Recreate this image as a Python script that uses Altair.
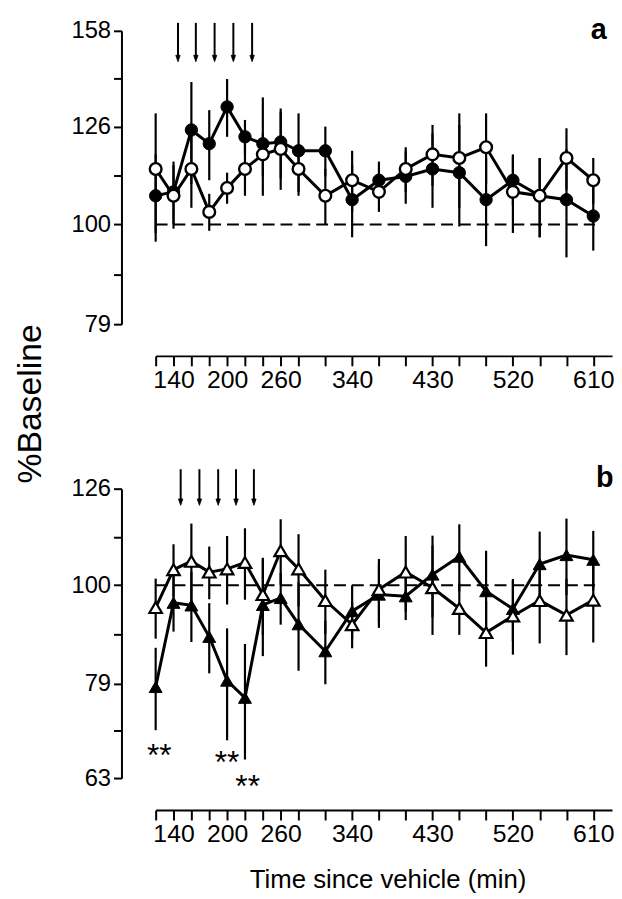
import altair as alt
import pandas as pd

# ---------------- data ----------------
times = [120, 140, 160, 180, 200, 220, 240, 260, 280, 310,
         340, 370, 400, 430, 460, 490, 520, 550, 580, 610]
x_labelled = [140, 200, 260, 340, 430, 520, 610]
x_domain = [120, 631]
baseline_span = [120, 612]

# panel a : circles
a_filled = [107, 108, 125, 121, 132, 123, 121, 121.5, 119, 119,
            106, 111, 112, 114, 113, 106, 111, 107, 106, 102]
a_filled_err = [11, 8, 15, 10, 9, 5, 14, 10, 11, 7,
                9, 5, 7, 10, 13.5, 11, 6.5, 10, 13.5, 8]
a_open = [114, 107, 114, 103, 109, 114, 118, 119.5, 114, 107,
          111, 108, 114, 118, 117, 120, 108, 107, 117, 111]
a_open_err = [16, 8, 10, 4.5, 4, 7, 6, 11, 7, 7,
              8, 5, 6, 8.5, 13, 10, 10, 10, 8.5, 6]
a_y_domain = [79, 158]
a_y_labels = [79, 100, 126, 158]
a_y_minor = [88.9, 112.2, 141.1]
a_arrows = [145, 165, 186, 207, 228]
a_arrow_top = [161, 161, 161, 161, 161]
a_arrow_head = [148, 148, 148, 148, 148]
a_letter = ["a"]
a_letter_x = [616]
a_letter_y = [155]

# panel b : triangles
b_filled = [78.4, 95.9, 95.3, 88.4, 79.6, 76.4, 95.4, 97, 91.1, 85.4,
            94, 97.8, 97.4, 102.6, 107.1, 98.6, 94.5, 105.2, 107.5, 106.3]
b_filled_err = [7.7, 6.4, 8, 7.4, 10.6, 10.5, 11, 6, 9.6, 6.5,
                6, 7.5, 5.4, 10, 8.6, 10, 7, 8.5, 9.8, 7.6]
b_open = [94.8, 103.8, 105.9, 103.2, 104, 105.6, 97.8, 108.6, 104, 96.4,
          91, 99, 103.2, 99.4, 94.6, 89.3, 92.9, 96.4, 93.1, 96.5]
b_open_err = [6.8, 6.5, 10, 6.5, 8.5, 9, 9, 8.5, 9, 7.4,
              5, 7.5, 9.3, 10.6, 5.8, 7, 8.2, 9.4, 8.5, 9.3]
b_y_domain = [63, 126]
b_y_labels = [63, 79, 100, 126]
b_y_minor = [70.6, 88.9, 112.2]
b_arrows = [148, 169, 190, 210, 230]
b_arrow_top = [132, 132, 132, 132, 132]
b_arrow_head = [122, 122, 122, 122, 122]
b_stars_x = [124, 200, 223]
b_stars_y = [67.8, 66.8, 63.0]
b_stars_text = ["**", "**", "**"]
b_letter = ["b"]
b_letter_x = [622.8]
b_letter_y = [126.5]

FONT = "Liberation Sans"
ARROW_SHAPE = "M-0.34,-0.5L0.34,-0.5L0,0.5Z"


def series_df(vals, errs, name):
    df = pd.DataFrame({"time": times, "value": vals, "err": errs})
    df["lo"] = df["value"] - df["err"]
    df["hi"] = df["value"] + df["err"]
    df["series"] = name
    return df


def label_expr(vals):
    arr = ",".join(str(v) for v in vals)
    return f"indexof([{arr}], datum.value) >= 0 ? '' + datum.value : ''"


def panel(filled, filled_err, opened, opened_err, y_domain, y_labels, y_minor,
          arrows, arrow_top, arrow_head, letter, letter_x, letter_y,
          shape, height, x_title, y_title, stars=None):
    df_f = series_df(filled, filled_err, "filled")
    df_o = series_df(opened, opened_err, "open")
    df_all = pd.concat([df_f, df_o], ignore_index=True)

    xs = alt.Scale(domain=x_domain, nice=False, zero=False)
    ys = alt.Scale(type="log", domain=y_domain, nice=False)

    x_kw = dict(
        values=times, labelExpr=label_expr(x_labelled),
        tickSize=10, tickWidth=2, tickColor="black", domainWidth=2,
        domainColor="black", offset=32, grid=False, labelFontSize=25,
        labelPadding=2, labelColor="black", labelFont=FONT,
        labelFlush=False, labelOverlap=False,
    )
    if x_title:
        x_axis = alt.Axis(title=x_title, titleFontSize=26,
                          titleFontWeight="normal", titleColor="black",
                          titleFont=FONT, titlePadding=20, titleX=234, **x_kw)
    else:
        x_axis = alt.Axis(title=None, **x_kw)
    y_axis_kw = dict(
        values=sorted(y_labels + y_minor), labelExpr=label_expr(y_labels),
        tickSize=8, tickWidth=2, tickColor="black", domainWidth=2,
        domainColor="black", offset=34.5, grid=False, labelFontSize=24,
        labelPadding=3, labelColor="black", labelFont=FONT,
        labelFlush=False, labelOverlap=False,
    )
    if y_title:
        y_axis = alt.Axis(
            title=y_title, titleFontSize=34, titleFontWeight="normal",
            titleColor="black", titleFont=FONT, titleAngle=-90,
            titleAlign="center", titleBaseline="middle",
            titleX=-92, titleY=376, **y_axis_kw)
    else:
        y_axis = alt.Axis(title=None, **y_axis_kw)

    X = lambda f: alt.X(f, type="quantitative", scale=xs, axis=x_axis)
    Y = lambda f: alt.Y(f, type="quantitative", scale=ys, axis=y_axis)

    base_line = pd.DataFrame({"x1": [baseline_span[0]], "x2": [baseline_span[1]],
                              "y": [100]})
    dashed = alt.Chart(base_line).mark_rule(
        color="black", strokeWidth=2, strokeDash=[12, 6]
    ).encode(x=X("x1"), x2="x2", y=Y("y"))

    bars = alt.Chart(df_all).mark_rule(color="black", strokeWidth=2.2).encode(
        x=X("time"), y=Y("lo"), y2="hi")

    lines = alt.Chart(df_all).mark_line(color="black", strokeWidth=3).encode(
        x=X("time"), y=Y("value"), detail="series:N")

    if shape == "circle":
        pts_f = alt.Chart(df_f).mark_point(
            shape="circle", filled=True, fill="black", stroke="black",
            strokeWidth=1, size=155, opacity=1).encode(x=X("time"), y=Y("value"))
        pts_o = alt.Chart(df_o).mark_point(
            shape="circle", filled=True, fill="white", stroke="black",
            strokeWidth=2.4, size=140, opacity=1).encode(x=X("time"), y=Y("value"))
    else:
        pts_f = alt.Chart(df_f).mark_point(
            shape="triangle-up", filled=True, fill="black", stroke="black",
            strokeWidth=1, size=170, opacity=1).encode(x=X("time"), y=Y("value"))
        pts_o = alt.Chart(df_o).mark_point(
            shape="triangle-up", filled=True, fill="white", stroke="black",
            strokeWidth=2.2, size=160, opacity=1).encode(x=X("time"), y=Y("value"))

    arr_df = pd.DataFrame({"time": arrows, "top": arrow_top, "head": arrow_head})
    arr_line = alt.Chart(arr_df).mark_rule(color="black", strokeWidth=2).encode(
        x=X("time"), y=Y("top"), y2="head")
    arr_head = alt.Chart(arr_df).mark_point(
        shape=ARROW_SHAPE, filled=True, fill="black", stroke="black",
        strokeWidth=0.8, size=169, opacity=1).encode(x=X("time"), y=Y("head"))

    let_df = pd.DataFrame({"time": letter_x, "y": letter_y, "t": letter})
    let_txt = alt.Chart(let_df).mark_text(
        font=FONT, fontSize=29, fontWeight="bold", color="black",
        align="center", baseline="alphabetic").encode(
        x=X("time"), y=Y("y"), text="t:N")

    layers = [dashed, bars, lines, pts_f, pts_o, arr_line, arr_head, let_txt]
    if stars is not None:
        st_df = pd.DataFrame({"time": stars[0], "y": stars[1], "t": stars[2]})
        st_txt = alt.Chart(st_df).mark_text(
            font=FONT, fontSize=32, color="black", align="center",
            baseline="middle", dy=9).encode(x=X("time"), y=Y("y"), text="t:N")
        layers.append(st_txt)

    return alt.layer(*layers).properties(width=460.5, height=height)


pa = panel(a_filled, a_filled_err, a_open, a_open_err, a_y_domain, a_y_labels,
           a_y_minor, a_arrows, a_arrow_top, a_arrow_head, a_letter, a_letter_x,
           a_letter_y, "circle", 296, None, "%Baseline")
pb = panel(b_filled, b_filled_err, b_open, b_open_err, b_y_domain, b_y_labels,
           b_y_minor, b_arrows, b_arrow_top, b_arrow_head, b_letter, b_letter_x,
           b_letter_y, "triangle", 292.3, "Time since vehicle (min)", None,
           stars=(b_stars_x, b_stars_y, b_stars_text))

chart = alt.vconcat(pa, pb, spacing=166, bounds="flush").properties(
    padding={"left": 5, "top": 4, "right": 0, "bottom": 0}
).configure(font=FONT).configure_view(stroke=None)

chart.save("out.html", embed_options={"renderer": "svg", "actions": False})
